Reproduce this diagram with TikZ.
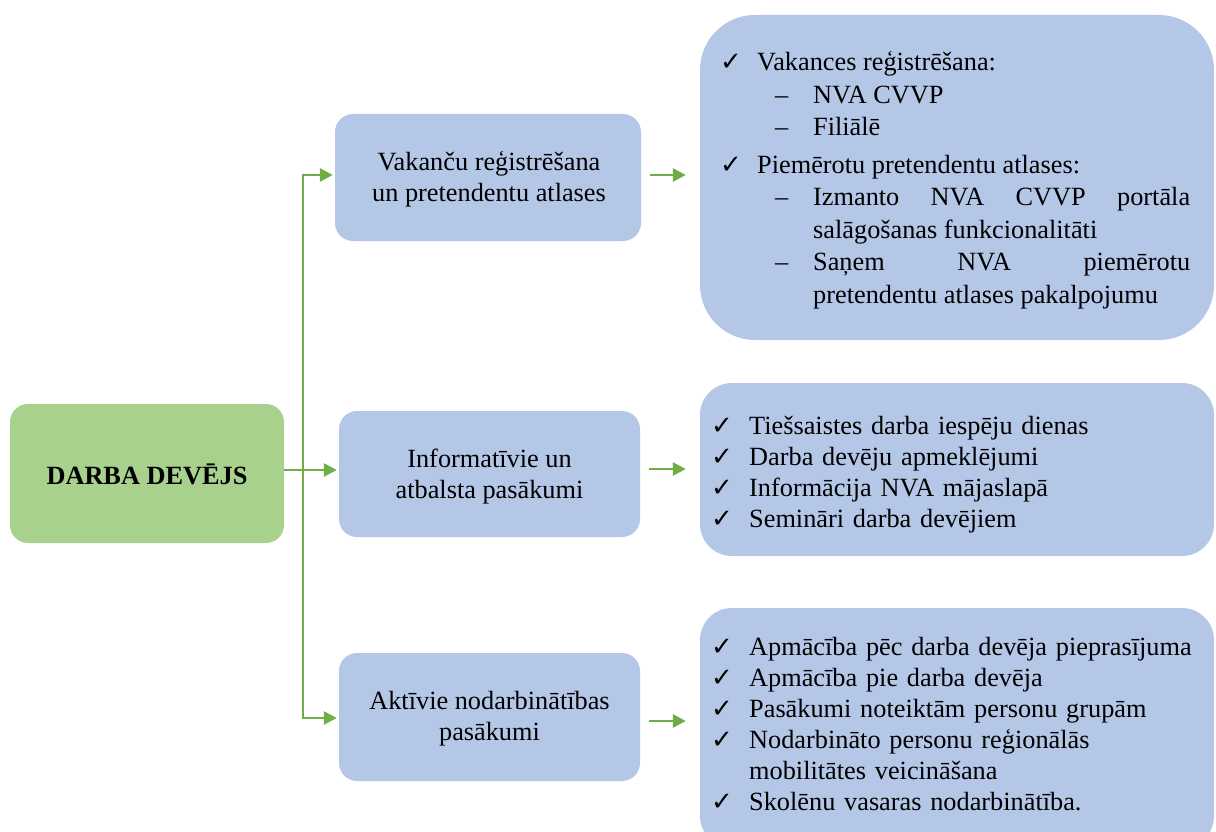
\documentclass[tikz,border=0pt]{standalone}
\usepackage{fontspec}
\setmainfont{Liberation Serif}
\newfontfamily\symf{DejaVu Sans}
\usetikzlibrary{arrows.meta}
\definecolor{boxgreen}{HTML}{A9D18E}
\definecolor{boxblue}{HTML}{B4C7E7}
\definecolor{lingreen}{HTML}{70AD47}
\newcommand\cmk{{\symf\bfseries\fontsize{26}{26}\selectfont ✓}}
\newlength\chkind
\newlength\chkoff
\newcommand\citem[1]{\par\leftskip=0pt\hangindent=\chkind\hangafter=1\noindent\makebox[\chkind][l]{\hspace*{\chkoff}\cmk}#1}
\newcommand\ditem[1]{\par\leftskip=91pt\hangindent=0pt\noindent\hspace*{-38pt}\makebox[38pt][l]{–}#1}
\begin{document}
\begin{tikzpicture}[x=1pt,y=-1pt,
  gbox/.style={draw=none,fill=boxgreen,rounded corners=18pt,inner sep=0pt},
  bbox/.style={draw=none,fill=boxblue,rounded corners=18pt,inner sep=0pt},
  rbox/.style={draw=none,fill=boxblue,inner sep=0pt},
  arr/.style={draw=lingreen,line width=2.6pt,-{Triangle[length=13pt,width=13pt]}},
  txt/.style={font=\fontsize{26.3}{31}\selectfont,inner sep=0pt},
  lst/.style={font=\fontsize{26.3}{31}\selectfont,inner sep=0pt,anchor=north west,align=justify}]
\useasboundingbox (0,0) rectangle (1216,832);
% left box
\node[gbox,minimum width=274pt,minimum height=139pt] (d) at (147,473.5) {};
\node[txt,font=\fontsize{26.3}{31}\selectfont\bfseries] (dt) at (147,474) {DARBA DEVĒJS};
% middle boxes
\node[bbox,minimum width=306pt,minimum height=127pt] (m1) at (488,177.5) {};
\node[txt,align=center] (m1t) at (489,179) {Vakanču reģistrēšana\\un pretendentu atlases};
\node[bbox,minimum width=301pt,minimum height=126pt] (m2) at (489.5,474) {};
\node[txt,align=center] (m2t) at (489.5,477) {Informatīvie un\\atbalsta pasākumi};
\node[bbox,minimum width=301pt,minimum height=128pt] (m3) at (489.5,717) {};
\node[txt,align=center] (m3t) at (489.5,719) {Aktīvie nodarbinātības\\pasākumi};
% right boxes
\node[rbox,rounded corners=55pt,minimum width=514pt,minimum height=325pt] (r1) at (957,177.5) {};
\node[rbox,rounded corners=32pt,minimum width=514pt,minimum height=173pt] (r2) at (957,469.5) {};
\node[rbox,rounded corners=32pt,minimum width=514pt,minimum height=240pt] (r3) at (957,728) {};
% right texts
\node[lst,text width=468pt] (r1t) at (722,38) {\hyphenpenalty=10000 \setlength\chkind{35pt}\setlength\chkoff{-2pt}\fontsize{26.3}{32.5}\selectfont
\citem{Vakances reģistrēšana:}
\ditem{NVA CVVP}
\ditem{Filiālē}
\par\vspace{5pt}
\citem{Piemērotu pretendentu atlases:}
\ditem{Izmanto NVA CVVP portāla\linebreak salāgošanas funkcionalitāti}
\ditem{Saņem NVA piemērotu\linebreak pretendentu atlases pakalpojumu}\par};
\node[lst,text width=500pt,align=left] (r2t) at (705,403) {\hyphenpenalty=10000 \setlength\chkind{44pt}\setlength\chkoff{6pt}
\citem{Tiešsaistes darba iespēju dienas}
\citem{Darba devēju apmeklējumi}
\citem{Informācija NVA mājaslapā}
\citem{Semināri darba devējiem}\par};
\node[lst,text width=500pt,align=left] (r3t) at (705,624) {\hyphenpenalty=10000 \setlength\chkind{44pt}\setlength\chkoff{6pt}
\citem{Apmācība pēc darba devēja pieprasījuma}
\citem{Apmācība pie darba devēja}
\citem{Pasākumi noteiktām personu grupām}
\citem{Nodarbināto personu reģionālās\newline mobilitātes veicināšana}
\citem{Skolēnu vasaras nodarbinātība.}\par};
% connectors
\coordinate (tr) at (303,470);
\draw[arr,shorten >=2pt] (d.east |- tr) -- (m2.west |- tr);
\draw[arr,shorten >=2pt] (tr) |- (m1.west |- 0,175);
\draw[arr,shorten >=2pt] (tr) |- (m3.west |- 0,718);
\draw[arr,shorten <=9pt,shorten >=14pt] (m1.east |- 0,175) -- (r1.west |- 0,175);
\draw[arr,shorten <=9pt,shorten >=14pt] (m2.east |- 0,469) -- (r2.west |- 0,469);
\draw[arr,shorten <=9pt,shorten >=14pt] (m3.east |- 0,721) -- (r3.west |- 0,721);
\end{tikzpicture}
\end{document}
